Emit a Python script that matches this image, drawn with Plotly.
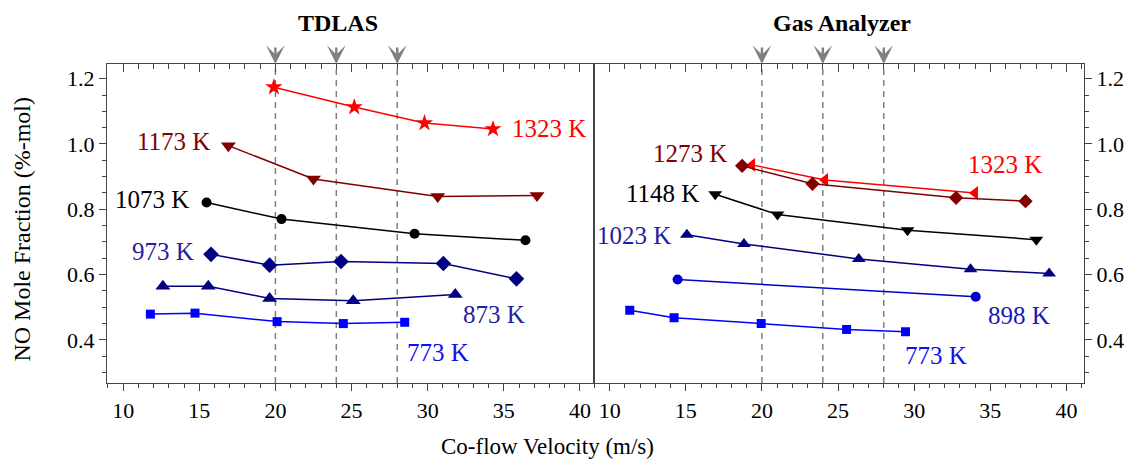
import plotly.graph_objects as go

# ---------------- data ----------------
# TDLAS panel (co-flow velocity m/s, NO mole fraction %-mol)
tdlas_1323_x = [19.9, 25.18, 29.79, 34.29]
tdlas_1323_y = [1.174, 1.113, 1.064, 1.046]
tdlas_1173_x = [16.91, 22.5, 30.66, 37.18]
tdlas_1173_y = [0.995, 0.893, 0.839, 0.842]
tdlas_1073_x = [15.48, 20.4, 29.14, 36.42]
tdlas_1073_y = [0.821, 0.770, 0.725, 0.705]
tdlas_973_x = [15.77, 19.62, 24.31, 31.03, 35.83]
tdlas_973_y = [0.662, 0.629, 0.640, 0.634, 0.587]
tdlas_873_x = [12.61, 15.59, 19.62, 25.11, 31.81]
tdlas_873_y = [0.564, 0.564, 0.527, 0.520, 0.539]
tdlas_773_x = [11.79, 14.72, 20.11, 24.46, 28.49]
tdlas_773_y = [0.479, 0.482, 0.456, 0.450, 0.454]

# Gas Analyzer panel
ga_1323_x = [19.35, 24.14, 33.99]
ga_1323_y = [0.936, 0.890, 0.850]
ga_1273_x = [18.70, 23.32, 32.75, 37.31]
ga_1273_y = [0.933, 0.878, 0.835, 0.825]
ga_1148_x = [16.93, 21.02, 29.56, 38.02]
ga_1148_y = [0.846, 0.784, 0.736, 0.707]
ga_1023_x = [15.07, 18.82, 26.36, 33.70, 38.86]
ga_1023_y = [0.722, 0.694, 0.648, 0.616, 0.603]
ga_898_x = [14.46, 34.04]
ga_898_y = [0.585, 0.532]
ga_773_x = [11.32, 14.23, 19.95, 25.56, 29.43]
ga_773_y = [0.491, 0.468, 0.450, 0.432, 0.425]

marked_velocities = [20, 24, 28]
x_ticks = [10, 15, 20, 25, 30, 35, 40]
y_ticks = [0.4, 0.6, 0.8, 1.0, 1.2]
panel_titles = ["TDLAS", "Gas Analyzer"]
x_title = "Co-flow Velocity (m/s)"
y_title = "NO Mole Fraction (%-mol)"

# ---------------- style ----------------
FONT = "Liberation Serif"
RED = "#FF0000"
MAROON = "#800000"
BLACK = "#000000"
NAVY = "#000080"
BLUE = "#0000FF"
BLUE2 = "#0000CC"
GRAY = "#808080"
AX = "#444444"

W, H = 1136, 460
ML, MR, MT, MB = 107, 45, 64, 77
PW = W - ML - MR
SPLIT = (597 - ML) / PW
YR = [0.268, 1.245]
XR1 = [8.94, 40.89]
XR2 = [8.94, 41.15]

fig = go.Figure()


def add(xs, ys, color, symbol, size, xa, ya):
    fig.add_trace(go.Scatter(
        x=xs, y=ys, mode="lines+markers",
        line=dict(color=color, width=1.5),
        marker=dict(symbol=symbol, size=size, color=color, line=dict(width=0)),
        xaxis=xa, yaxis=ya, showlegend=False, hoverinfo="skip"))


add(tdlas_1323_x, tdlas_1323_y, RED, "star", 13, "x", "y")
add(tdlas_1173_x, tdlas_1173_y, MAROON, "triangle-down", 13, "x", "y")
add(tdlas_1073_x, tdlas_1073_y, BLACK, "circle", 10, "x", "y")
add(tdlas_973_x, tdlas_973_y, NAVY, "diamond", 12, "x", "y")
add(tdlas_873_x, tdlas_873_y, NAVY, "triangle-up", 13, "x", "y")
add(tdlas_773_x, tdlas_773_y, BLUE, "square", 9, "x", "y")

add(ga_1323_x, ga_1323_y, RED, "triangle-left", 12, "x2", "y2")
add(ga_1273_x, ga_1273_y, MAROON, "diamond", 11, "x2", "y2")
add(ga_1148_x, ga_1148_y, BLACK, "triangle-down", 12, "x2", "y2")
add(ga_1023_x, ga_1023_y, NAVY, "triangle-up", 12, "x2", "y2")
add(ga_898_x, ga_898_y, BLUE2, "circle", 10, "x2", "y2")
add(ga_773_x, ga_773_y, BLUE, "square", 9, "x2", "y2")

# empty traces to register the top (inside-tick) axes
fig.add_trace(go.Scatter(x=[], y=[], xaxis="x3", yaxis="y", showlegend=False))
fig.add_trace(go.Scatter(x=[], y=[], xaxis="x4", yaxis="y2", showlegend=False))

tickfont = dict(family=FONT, size=22, color=BLACK)

common_x = dict(tickmode="array", tickvals=x_ticks, ticks="outside", ticklen=7,
                tickcolor=AX, tickwidth=1, showline=True, linecolor=AX, linewidth=1.2,
                showgrid=False, zeroline=False, tickfont=tickfont,
                minor=dict(dtick=1, tick0=0, ticks="outside", ticklen=4, tickcolor=AX, showgrid=False))
top_x = dict(tickmode="array", tickvals=x_ticks, ticks="inside", ticklen=8,
             tickcolor=AX, showline=True, linecolor=AX, linewidth=1.2,
             showgrid=False, zeroline=False, showticklabels=False, side="top",
             minor=dict(dtick=1, tick0=0, ticks="inside", ticklen=5, tickcolor=AX, showgrid=False))
common_y = dict(range=YR, tickmode="array", tickvals=y_ticks, tickformat=".1f",
                ticks="outside", ticklen=7, tickcolor=AX, showline=True, linecolor=AX,
                linewidth=1.2, mirror=True, showgrid=False, zeroline=False, tickfont=tickfont,
                minor=dict(dtick=0.05, tick0=0, ticks="outside", ticklen=4, tickcolor=AX, showgrid=False))

fig.update_layout(
    width=W, height=H,
    margin=dict(l=ML, r=MR, t=MT, b=MB),
    paper_bgcolor="white", plot_bgcolor="white",
    xaxis=dict(domain=[0, SPLIT], range=XR1, anchor="y", **common_x),
    xaxis2=dict(domain=[SPLIT, 1], range=XR2, anchor="y2", **common_x),
    xaxis3=dict(overlaying="x", range=XR1, anchor="y", **top_x),
    xaxis4=dict(overlaying="x2", range=XR2, anchor="y2", **top_x),
    yaxis=dict(domain=[0, 1], anchor="x", side="left", **common_y),
    yaxis2=dict(domain=[0, 1], anchor="x2", side="right", **common_y),
)

shapes = []
annotations = []
for xa, ya in (("x", "y"), ("x2", "y2")):
    for v in marked_velocities:
        shapes.append(dict(type="line", xref=xa, yref=ya + " domain", x0=v, x1=v, y0=0, y1=1,
                           line=dict(color=GRAY, width=1.5, dash="6px,5px"), layer="below"))
        annotations.append(dict(x=v, xref=xa, y=1, yref=ya + " domain", text="", showarrow=True,
                                ax=0, ay=-18, arrowhead=3, arrowsize=1.3, arrowwidth=2.4,
                                arrowcolor=GRAY))

# series labels: (text, axis, x, y, anchor, color)
series_labels = [
    ("1323 K", "1", 35.42, 1.049, "left", RED),
    ("1173 K", "1", 15.86, 1.007, "right", MAROON),
    ("1073 K", "1", 14.46, 0.829, "right", BLACK),
    ("973 K", "1", 14.79, 0.671, "right", "#1f1f9f"),
    ("873 K", "1", 32.18, 0.478, "left", "#1f1f9f"),
    ("773 K", "1", 28.49, 0.361, "left", "#1010ee"),
    ("1273 K", "2", 17.83, 0.972, "right", MAROON),
    ("1323 K", "2", 33.38, 0.936, "left", RED),
    ("1148 K", "2", 15.98, 0.848, "right", BLACK),
    ("1023 K", "2", 14.16, 0.720, "right", "#1f1f9f"),
    ("898 K", "2", 34.72, 0.476, "left", "#1a1ab8"),
    ("773 K", "2", 29.27, 0.353, "left", "#1010ee"),
]
for text, ax_id, xv, yv, anc, col in series_labels:
    xa = "x" if ax_id == "1" else "x2"
    ya = "y" if ax_id == "1" else "y2"
    annotations.append(dict(x=xv, y=yv, xref=xa, yref=ya, text=text, showarrow=False,
                            xanchor=anc, yanchor="middle",
                            font=dict(family=FONT, size=25, color=col)))

# panel titles
ph = H - MT - MB
for txt, px in zip(panel_titles, (340, 847)):
    annotations.append(dict(x=(px - ML) / PW, y=1 + (MT - 23) / ph, xref="paper", yref="paper",
                            text="<b>" + txt + "</b>", showarrow=False, xanchor="center",
                            yanchor="middle", font=dict(family=FONT, size=24, color=BLACK)))

# axis titles
annotations.append(dict(x=(551 - ML) / PW, y=-(446 - (H - MB)) / ph, xref="paper", yref="paper",
                        text=x_title, showarrow=False, xanchor="center", yanchor="middle",
                        font=dict(family=FONT, size=23, color=BLACK)))
annotations.append(dict(x=(21 - ML) / PW, y=((H - MB) - 229) / ph, xref="paper", yref="paper",
                        text=y_title, showarrow=False, xanchor="center", yanchor="middle",
                        textangle=-90, font=dict(family=FONT, size=24, color=BLACK)))

fig.update_layout(shapes=shapes, annotations=annotations)

fig.write_html("out.html", config={"displayModeBar": False},
               post_script="document.body.style.margin='0';document.body.style.overflow='hidden';")
